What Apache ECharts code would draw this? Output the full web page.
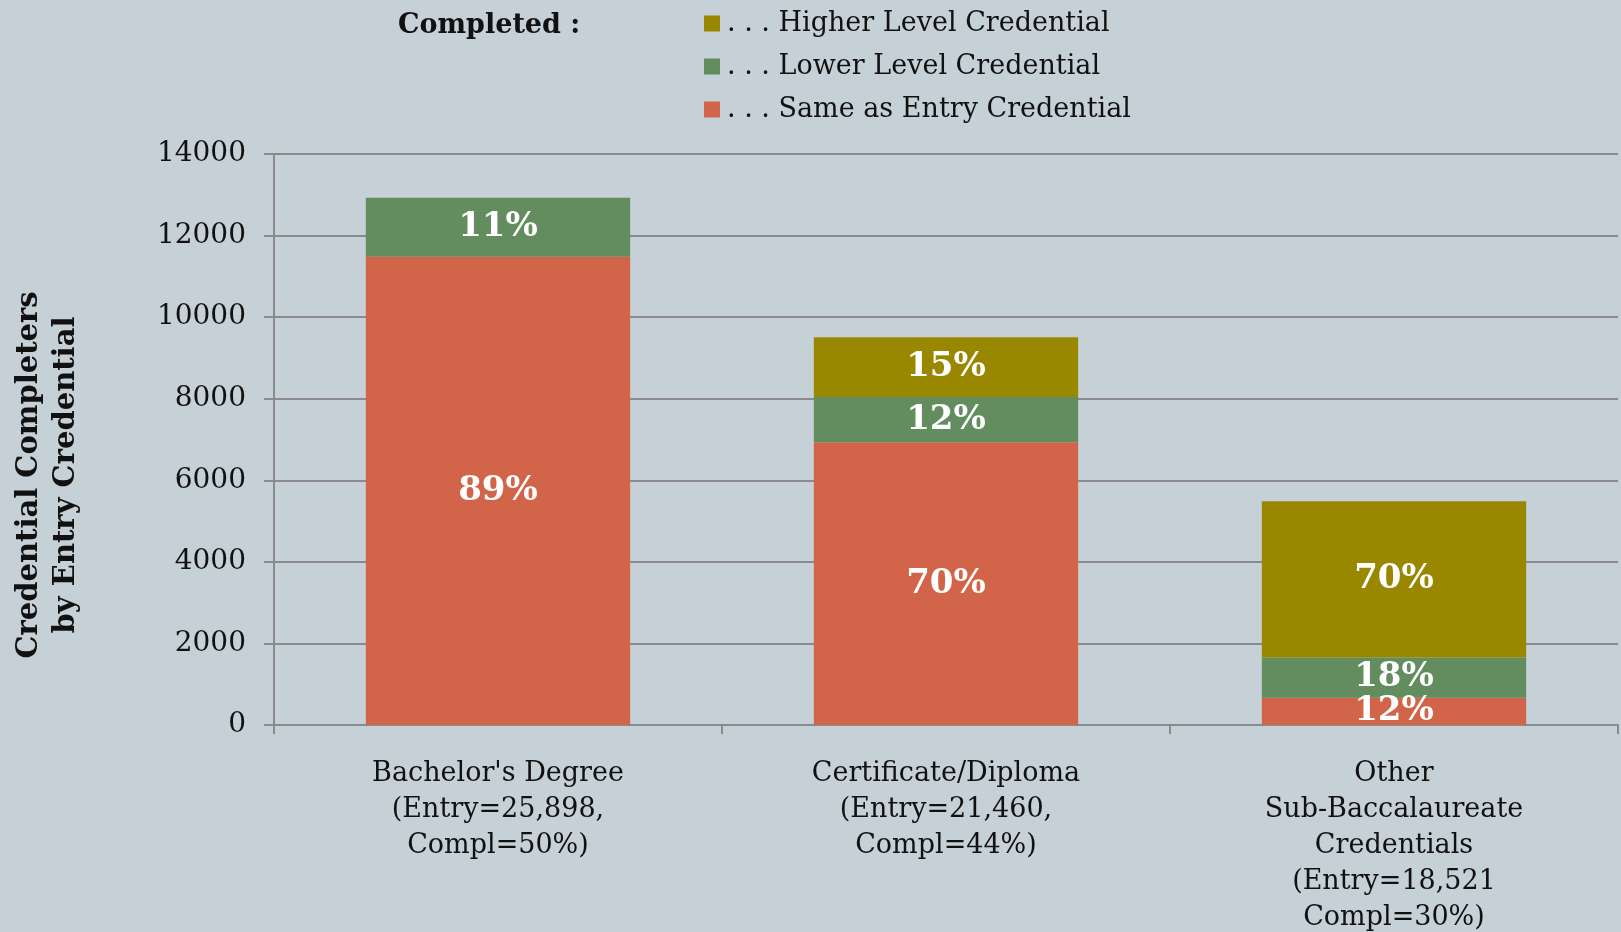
<!DOCTYPE html>
<html>
<head>
<meta charset="utf-8">
<script src="https://cdn.jsdelivr.net/npm/echarts@6/dist/echarts.min.js"></script>
<style>
  html, body { margin: 0; padding: 0; background: #c5d0d7; }
  #chart { width: 1621px; height: 932px; }
</style>
</head>
<body>
<div id="chart"></div>
<script>
// Categories (x axis)
var categories = [
    "Bachelor's Degree\n(Entry=25,898,\nCompl=50%)",
    "Certificate/Diploma\n(Entry=21,460,\nCompl=44%)",
    "Other\nSub-Baccalaureate\nCredentials\n(Entry=18,521\nCompl=30%)"
];

// Series names
var seriesNames = ['Same as Entry Credential', 'Lower Level Credential', 'Higher Level Credential'];

// Completer counts
var sameValues = [11480, 6930, 670];
var lowerValues = [1450, 1110, 985];
var higherValues = [0, 1470, 3830];

// Percent labels printed on the bars
var samePct = ['89%', '70%', '12%'];
var lowerPct = ['11%', '12%', '18%'];
var higherPct = ['', '15%', '70%'];

var serif = '"DejaVu Serif", "Liberation Serif", serif';

var chart = echarts.init(document.getElementById('chart'));

function labelFor(pcts) {
    return {
        show: true,
        position: 'inside',
        color: '#fff',
        fontFamily: serif,
        fontWeight: 'bold',
        fontSize: 34,
        formatter: function (p) { return pcts[p.dataIndex]; }
    };
}

chart.setOption({
    backgroundColor: '#c5d0d7',
    animation: false,
    textStyle: { fontFamily: serif, color: '#111' },

    grid: { left: 274, right: 3, top: 154, bottom: 207, outerBoundsMode: 'none' },

    legend: {
        orient: 'vertical',
        left: 699,
        top: 5,
        itemWidth: 16,
        itemHeight: 16,
        itemGap: 16,
        icon: 'rect',
        data: [seriesNames[2], seriesNames[1], seriesNames[0]],
        formatter: function (name) { return '. . . ' + name; },
        textStyle: { fontFamily: serif, fontSize: 27, color: '#111', padding: [0, 0, 0, 2] }
    },

    graphic: [
        {
            type: 'text',
            left: 398,
            top: 12,
            style: { text: 'Completed :', font: 'bold 27px ' + serif, fill: '#111' }
        },
        {
            type: 'text',
            x: 48,
            y: 475,
            rotation: Math.PI / 2,
            style: {
                text: 'Credential Completers\nby Entry Credential',
                font: 'bold 29px ' + serif,
                fill: '#111',
                align: 'center',
                verticalAlign: 'middle',
                lineHeight: 37
            }
        }
    ],

    xAxis: {
        type: 'category',
        data: categories,
        axisLine: { lineStyle: { color: '#8a8a8a', width: 2 } },
        axisTick: { show: true, length: 9, lineStyle: { color: '#8a8a8a', width: 2 } },
        axisLabel: {
            color: '#111',
            fontFamily: serif,
            fontSize: 27,
            lineHeight: 36,
            margin: 31,
            interval: 0
        }
    },

    yAxis: {
        type: 'value',
        min: 0,
        max: 14000,
        interval: 2000,
        axisLine: { show: true, lineStyle: { color: '#8a8a8a', width: 2 } },
        axisTick: { show: true, length: 10, lineStyle: { color: '#8a8a8a', width: 2 } },
        axisLabel: {
            color: '#111',
            fontFamily: serif,
            fontSize: 28,
            margin: 28,
            formatter: function (v) { return String(v); }
        },
        splitLine: { lineStyle: { color: '#8a8a8a', width: 2 } }
    },

    series: [
        {
            name: seriesNames[0],
            type: 'bar',
            stack: 'total',
            barWidth: '59%',
            data: sameValues,
            itemStyle: { color: '#d16449' },
            label: labelFor(samePct)
        },
        {
            name: seriesNames[1],
            type: 'bar',
            stack: 'total',
            data: lowerValues,
            itemStyle: { color: '#638c5f' },
            label: labelFor(lowerPct)
        },
        {
            name: seriesNames[2],
            type: 'bar',
            stack: 'total',
            data: higherValues,
            itemStyle: { color: '#9a8700' },
            label: labelFor(higherPct)
        }
    ]
});
</script>
</body>
</html>
